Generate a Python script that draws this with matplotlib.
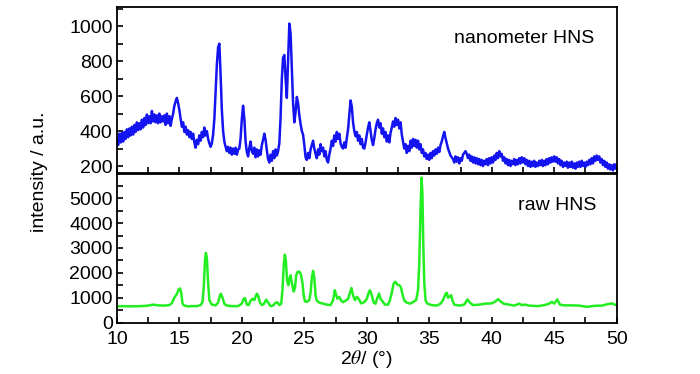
import numpy as np
import matplotlib
matplotlib.use("Agg")
import matplotlib.pyplot as plt
from matplotlib.ticker import MultipleLocator
from matplotlib.transforms import ScaledTranslation

plt.rcParams['font.family'] = ['Liberation Sans', 'DejaVu Sans']
plt.rcParams['mathtext.fontset'] = 'stix'

# nanometer HNS, every 0.1 deg from 10 to 50
nano_2theta = np.linspace(10, 50, 401)
nano_int = [
    350, 320, 385, 335, 390, 340, 395, 355, 410, 365,   # 10
    415, 375, 425, 380, 435, 395, 450, 405, 445, 410,   # 11
    465, 420, 475, 435, 495, 445, 485, 445, 515, 455,   # 12
    495, 450, 490, 445, 500, 450, 485, 455, 490, 435,   # 13
    500, 445, 485, 430, 470, 500, 545, 570, 590, 560,   # 14
    520, 470, 425, 450, 395, 425, 380, 405, 365, 395,   # 15
    355, 385, 335, 305, 350, 325, 375, 345, 395, 365,   # 16
    420, 375, 400, 355, 330, 310, 330, 380, 470, 620,   # 17
    780, 880, 900, 720, 520, 400, 340, 310, 285, 310,   # 18
    275, 305, 265, 300, 270, 305, 265, 295, 300, 360,   # 19
    470, 545, 470, 340, 280, 255, 305, 340, 285, 270,   # 20
    305, 250, 295, 255, 290, 265, 320, 350, 385, 350,   # 21
    290, 240, 220, 265, 230, 285, 245, 295, 260, 285,   # 22
    330, 480, 700, 820, 835, 700, 590, 800, 1015, 960,  # 23
    760, 560, 450, 510, 595, 560, 490, 440, 400, 380,   # 24
    320, 250, 235, 275, 245, 295, 320, 345, 300, 270,   # 25
    245, 295, 265, 325, 285, 305, 255, 285, 235, 220,   # 26
    265, 300, 345, 315, 375, 340, 395, 355, 385, 330,   # 27
    310, 300, 335, 305, 360, 410, 490, 575, 540, 450,   # 28
    400, 370, 395, 345, 375, 325, 355, 305, 300, 335,   # 29
    380, 420, 450, 400, 350, 320, 360, 410, 445, 465,   # 30
    420, 445, 385, 415, 365, 395, 340, 375, 335, 390,   # 31
    420, 455, 425, 475, 435, 465, 415, 450, 380, 340,   # 32
    300, 325, 275, 315, 285, 345, 305, 355, 315, 350,   # 33
    305, 345, 295, 325, 275, 295, 255, 275, 240, 265,   # 34
    235, 275, 245, 285, 260, 295, 270, 305, 280, 320,   # 35
    340, 370, 395, 360, 330, 300, 280, 260, 250, 240,   # 36
    220, 255, 225, 250, 215, 245, 230, 265, 275, 285,   # 37
    270, 245, 265, 230, 255, 220, 250, 215, 245, 210,   # 38
    240, 205, 235, 200, 230, 210, 240, 205, 245, 215,   # 39
    250, 220, 260, 235, 275, 245, 285, 255, 270, 230,   # 40
    250, 215, 240, 205, 235, 200, 230, 210, 240, 205,   # 41
    235, 210, 245, 215, 250, 220, 245, 210, 235, 200,   # 42
    230, 195, 225, 200, 230, 195, 220, 200, 230, 205,   # 43
    235, 200, 230, 205, 240, 210, 245, 220, 250, 225,   # 44
    255, 225, 250, 215, 240, 205, 230, 195, 220, 200,   # 45
    225, 190, 220, 195, 225, 190, 215, 185, 220, 195,   # 46
    225, 195, 230, 200, 220, 195, 225, 205, 235, 210,   # 47
    245, 215, 255, 230, 260, 235, 255, 220, 240, 205,   # 48
    230, 195, 220, 185, 210, 180, 205, 175, 210, 185,   # 49
    210,
]

# raw HNS
raw_2theta = [
    10.0, 10.5, 11.0, 11.5, 12.0, 12.5, 12.9, 13.3, 13.8, 14.2,
    14.4, 14.6, 14.8, 14.95, 15.05, 15.15, 15.25, 15.4, 15.7, 16.0,
    16.4, 16.7, 16.85, 16.95, 17.05, 17.12, 17.2, 17.3, 17.4, 17.6,
    17.9, 18.1, 18.25, 18.32, 18.45, 18.6, 18.8, 19.2, 19.7, 20.0,
    20.15, 20.25, 20.4, 20.55, 20.7, 20.85, 21.0, 21.1, 21.2, 21.3,
    21.45, 21.6, 21.75, 21.95, 22.1, 22.3, 22.5, 22.7, 22.85, 23.0,
    23.15, 23.25, 23.35, 23.44, 23.52, 23.62, 23.72, 23.82, 23.9, 24.0,
    24.15, 24.25, 24.35, 24.45, 24.6, 24.72, 24.85, 24.95, 25.05, 25.2,
    25.4, 25.5, 25.6, 25.7, 25.8, 25.9, 26.0, 26.2, 26.5, 26.8,
    27.1, 27.3, 27.44, 27.55, 27.65, 27.8, 27.95, 28.1, 28.3, 28.5,
    28.65, 28.77, 28.9, 29.05, 29.2, 29.35, 29.55, 29.8, 30.0, 30.15,
    30.25, 30.4, 30.55, 30.7, 30.85, 30.98, 31.1, 31.25, 31.45, 31.7,
    31.85, 32.0, 32.15, 32.3, 32.45, 32.6, 32.72, 32.85, 33.0, 33.2,
    33.45, 33.7, 33.95, 34.1, 34.2, 34.3, 34.38, 34.45, 34.52, 34.6,
    34.7, 34.85, 35.2, 35.6, 35.9, 36.1, 36.3, 36.4, 36.5, 36.65,
    36.75, 36.85, 37.0, 37.4, 37.8, 38.05, 38.25, 38.5, 39.0, 39.5,
    40.0, 40.3, 40.5, 40.7, 40.95, 41.4, 41.8, 42.2, 42.4, 42.65,
    43.0, 43.7, 44.2, 44.6, 44.8, 45.0, 45.25, 45.45, 45.8, 46.5,
    47.0, 47.6, 48.2, 48.8, 49.3, 49.6, 50.0,
]
raw_int = [
    650, 660, 650, 655, 660, 680, 720, 690, 680, 700,
    780, 1000, 1150, 1330, 1370, 1200, 760, 680, 650, 660,
    660, 700, 820, 1400, 2500, 2800, 2600, 1600, 900, 720,
    690, 800, 1100, 1160, 1000, 750, 680, 660, 660, 760,
    960, 980, 720, 700, 880, 950, 900, 1050, 1160, 1080,
    800, 700, 740, 920, 800, 660, 680, 800, 810, 700,
    760, 1300, 2300, 2730, 2500, 1700, 1500, 1800, 1900, 1600,
    1250, 1400, 1900, 2030, 2050, 1950, 1600, 1100, 850, 830,
    900, 1200, 1800, 2080, 1800, 1100, 880, 800, 760, 720,
    700, 900, 1300, 1100, 960, 1030, 880, 820, 880, 950,
    1200, 1390, 1100, 900, 1030, 950, 770, 820, 950, 1200,
    1300, 1100, 800, 760, 1000, 1170, 950, 860, 720, 720,
    900, 1200, 1580, 1640, 1520, 1500, 1430, 1150, 880, 800,
    760, 820, 900, 1300, 2400, 4500, 5830, 5200, 3200, 1600,
    900, 760, 700, 680, 760, 900, 1150, 1200, 1000, 1050,
    1100, 900, 720, 680, 720, 930, 800, 700, 720, 760,
    770, 850, 940, 850, 760, 720, 680, 760, 700, 720,
    680, 660, 700, 760, 830, 760, 930, 720, 690, 690,
    680, 630, 670, 680, 740, 770, 690,
]

fig = plt.figure(figsize=(7, 3.74), dpi=100)
ax1 = fig.add_axes([0.167, 0.5374, 0.714, 0.4439])
ax2 = fig.add_axes([0.167, 0.1377, 0.714, 0.3971])

ax1.plot(nano_2theta, nano_int, color='#1414f0', lw=1.8)
ax2.plot(raw_2theta, raw_int, color='#22ee22', lw=1.8)

ax1.set_ylim(160, 1110)
ax2.set_ylim(0, 5980)
for ax in (ax1, ax2):
    ax.set_xlim(10, 50)
    ax.xaxis.set_major_locator(MultipleLocator(5))
    ax.xaxis.set_minor_locator(MultipleLocator(2.5))
    ax.tick_params(which='both', direction='in', top=False, right=False,
                   length=4, width=1.2, labelsize=14, pad=3)
    for s in ax.spines.values():
        s.set_linewidth(1.3)

ax1.yaxis.set_major_locator(MultipleLocator(200))
ax1.yaxis.set_minor_locator(MultipleLocator(100))
ax1.tick_params(labelbottom=False)
ax2.yaxis.set_major_locator(MultipleLocator(1000))
ax2.yaxis.set_minor_locator(MultipleLocator(500))
ax2.tick_params(axis='x', pad=6)

# lift the "0" label a little so it clears the "10" below it
fig.canvas.draw()
zero_lbl = ax2.yaxis.get_major_ticks()[0].label1
zero_lbl.set_transform(zero_lbl.get_transform()
                       + ScaledTranslation(0, 3 / 72, fig.dpi_scale_trans))

ax1.text(0.956, 0.813, 'nanometer HNS', transform=ax1.transAxes,
         ha='right', va='center', fontsize=14)
ax2.text(0.96, 0.791, 'raw HNS', transform=ax2.transAxes,
         ha='right', va='center', fontsize=14)

ax2.set_xlabel(r'2$\theta$/ (°)', fontsize=14, labelpad=0)
fig.text(0.057, 0.54, 'intensity / a.u.', rotation=90, ha='center',
         va='center', fontsize=14)

fig.savefig('out.png', dpi=100)
